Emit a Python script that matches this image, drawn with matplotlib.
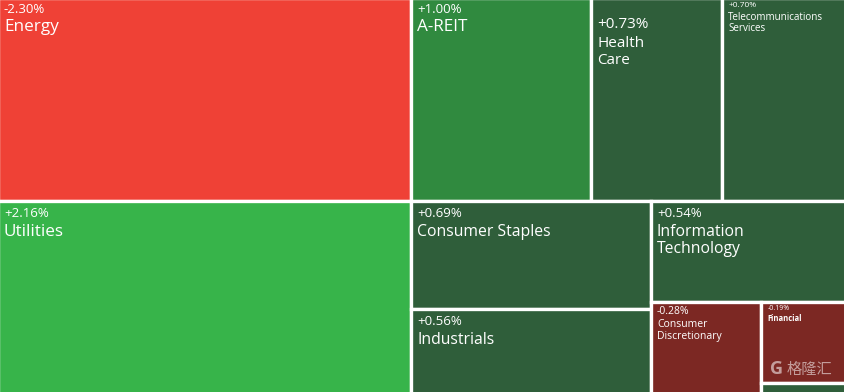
import matplotlib
matplotlib.use("Agg")
import matplotlib.pyplot as plt
from matplotlib.patches import Rectangle

# ---- data ----
sectors = ["Energy", "Utilities", "A-REIT", "Health Care", "Telecommunications Services",
           "Consumer Staples", "Industrials", "Information Technology",
           "Consumer Discretionary", "Financial", "Other"]
weights = [82.6, 78.5, 36.0, 26.1, 24.9, 25.5, 20.0, 19.5, 10.0, 6.7, 1.0]
changes = [-2.30, 2.16, 1.00, 0.73, 0.70, 0.69, 0.56, 0.54, -0.28, -0.19, None]
labels = ["Energy", "Utilities", "A-REIT", "Health\nCare", "Telecommunications\nServices",
          "Consumer Staples", "Industrials", "Information\nTechnology",
          "Consumer\nDiscretionary", "Financial", ""]

colors = {"Energy": "#EF4136", "Utilities": "#37B44A", "A-REIT": "#308A3F",
          "Consumer Discretionary": "#7C2823", "Financial": "#7C2823"}
default_color = "#2F5E3A"

# label styles: (pct size, name size, top pad px, name weight, linespacing)
styles = {"Energy": (9.5, 12.3, 5, "normal", 1.05),
          "Utilities": (9.5, 12.3, 6, "normal", 1.05),
          "A-REIT": (9.5, 12.3, 5, "normal", 1.05),
          "Health Care": (11, 11, 19, "normal", 1.25),
          "Telecommunications Services": (6, 7.1, 4, "normal", 1.0),
          "Consumer Staples": (9.5, 11.3, 6, "normal", 1.05),
          "Industrials": (9.5, 11.3, 6, "normal", 1.05),
          "Information Technology": (9.5, 11.3, 6, "normal", 1.1),
          "Consumer Discretionary": (7.5, 7.5, 4, "normal", 1.05),
          "Financial": (5, 5.5, 3, "bold", 1.0),
          "Other": (4, 4, 2, "normal", 1.0)}

# nesting of the treemap: ('h' = side by side, 'v' = stacked), leaves are sector indices
tree = ("h", [("v", [0, 1]),
              ("v", [("h", [2, 3, 4]),
                     ("h", [("v", [5, 6]),
                            ("v", [7, ("h", [8, ("v", [9, 10])])])])])])


def total(node):
    if isinstance(node, int):
        return weights[node]
    return sum(total(c) for c in node[1])


def layout(node, x, y, w, h, out):
    if isinstance(node, int):
        out[node] = (x, y, w, h)
        return
    d, kids = node
    t = total(node)
    pos = 0.0
    for k in kids:
        f = total(k) / t
        if d == "h":
            layout(k, x + pos * w, y, w * f, h, out)
        else:
            layout(k, x, y + pos * h, w, h * f, out)
        pos += f


W, H = 844, 392
fig = plt.figure(figsize=(W / 100, H / 100), dpi=100)
mx, my = 2.5 / W, 2.5 / H
ax = fig.add_axes([-mx, -my, 1 + 2 * mx, 1 + 2 * my])
ax.set_xlim(0, 1)
ax.set_ylim(1, 0)
ax.axis("off")

rects = {}
layout(tree, 0, 0, 1, 1, rects)

font = ["Open Sans", "DejaVu Sans"]
for i, name in enumerate(sectors):
    x, y, w, h = rects[i]
    c = colors.get(name, default_color)
    ax.add_patch(Rectangle((x, y), w, h, facecolor=c, edgecolor="white", linewidth=2.4))
    if changes[i] is None:
        continue
    ps, ns, pad, nw, ls = styles[name]
    pct = f"{changes[i]:+.2f}%"
    ax.annotate(pct, (x, y), xytext=(4.6, -pad * 0.72), textcoords="offset points",
                ha="left", va="top", color="white", fontsize=ps, family=font)
    ax.annotate(labels[i], (x, y), xytext=(4.6, -pad * 0.72 - ps * 1.25),
                textcoords="offset points", ha="left", va="top", color="white",
                fontsize=ns, family=font, fontweight=nw, linespacing=ls)

# watermark
fig.text(0.912, 0.058, "G", ha="left", va="center", fontsize=13, fontweight="bold",
         color="white", alpha=0.55, family=font)
fig.text(0.932, 0.058, "格隆汇", ha="left", va="center", fontsize=11,
         color="white", alpha=0.55, family=["Noto Sans CJK SC", "DejaVu Sans"])

fig.savefig("out.png", dpi=100)
